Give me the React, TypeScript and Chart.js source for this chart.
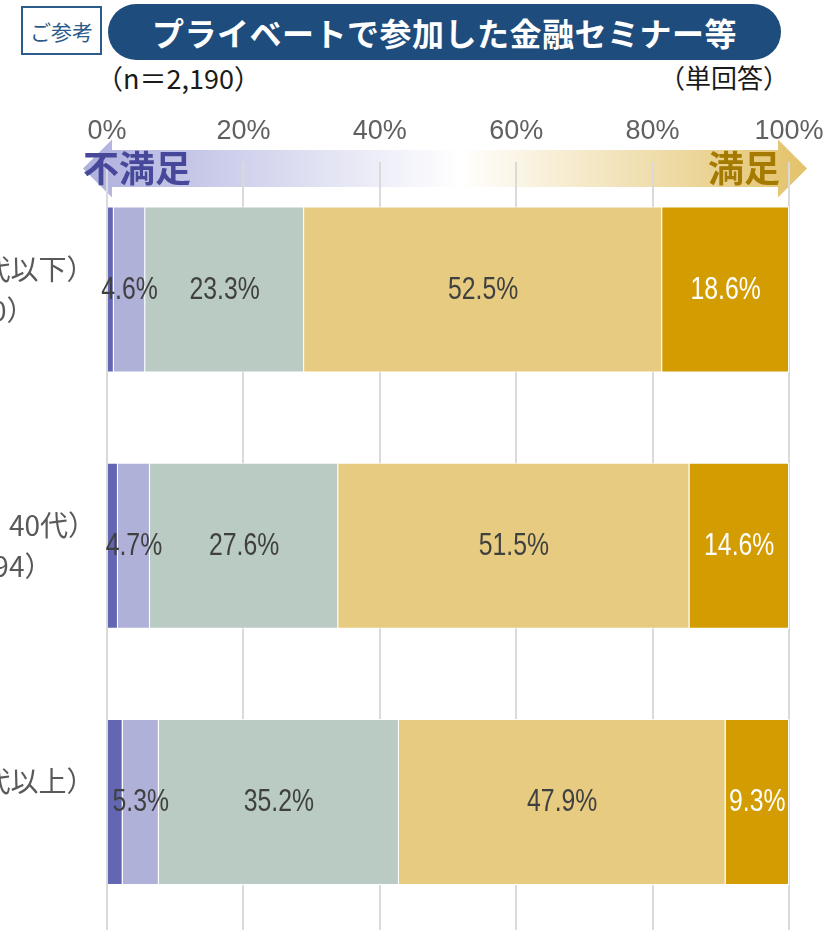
import React, { useEffect, useRef } from "react";
import { Chart, registerables } from "chart.js";

Chart.register(...registerables);

// ---- data ----
const categories: string[][] = [
  ["若年層（20代以下）", "（n=750）"],
  ["中年層（30・40代）", "（n＝1,094）"],
  ["高齢層（50代以上）", ""],
];
const seriesNames = ["不満", "やや不満", "どちらともいえない", "やや満足", "満足"];
const dissatisfied = [1.0, 1.6, 2.3];
const somewhatDissatisfied = [4.6, 4.7, 5.3];
const neutral = [23.3, 27.6, 35.2];
const somewhatSatisfied = [52.5, 51.5, 47.9];
const satisfied = [18.6, 14.6, 9.3];
const xTickValues = [0, 20, 40, 60, 80, 100];
const seriesColors = ["#6366b2", "#b0b1d9", "#b9cbc2", "#e6cb80", "#d39c00"];
const labelColors = ["", "#404040", "#404040", "#404040", "#ffffff"];

const SANS = "'Liberation Sans', Arial, sans-serif";
const JP = "'Noto Sans CJK JP', 'Noto Sans', sans-serif";

const arrowPlugin = {
  id: "satisfactionArrow",
  beforeDraw(chart: any) {
    const { ctx, chartArea } = chart;
    const L = chartArea.left;
    const R = chartArea.right;
    const cy = chartArea.top + 7;
    const bandH = 18.5;
    const headH = 29;
    const lt = L - 24, lb = L + 5, rb = R - 11, rt = R + 18;
    ctx.save();
    const g = ctx.createLinearGradient(lt, 0, rt, 0);
    g.addColorStop(0, "#aeb0de");
    g.addColorStop(0.52, "#ffffff");
    g.addColorStop(1, "#e3c26a");
    ctx.fillStyle = g;
    ctx.beginPath();
    ctx.moveTo(lt, cy);
    ctx.lineTo(lb, cy - headH);
    ctx.lineTo(lb, cy - bandH);
    ctx.lineTo(rb, cy - bandH);
    ctx.lineTo(rb, cy - headH);
    ctx.lineTo(rt, cy);
    ctx.lineTo(rb, cy + headH);
    ctx.lineTo(rb, cy + bandH);
    ctx.lineTo(lb, cy + bandH);
    ctx.lineTo(lb, cy + headH);
    ctx.closePath();
    ctx.fill();
    ctx.restore();
  },
  afterDatasetsDraw(chart: any) {
    const { ctx, chartArea } = chart;
    const cy = chartArea.top + 7;
    ctx.save();
    ctx.font = `bold 36px ${JP}`;
    ctx.textBaseline = "middle";
    ctx.textAlign = "left";
    ctx.fillStyle = "#47489a";
    ctx.fillText("不満足", chartArea.left - 24, cy);
    ctx.textAlign = "right";
    ctx.fillStyle = "#a57a00";
    ctx.fillText("満足", chartArea.right - 9, cy);
    ctx.restore();
  },
};

const segmentLabelPlugin = {
  id: "segmentLabels",
  afterDatasetsDraw(chart: any) {
    const ctx = chart.ctx;
    ctx.save();
    ctx.font = `31px ${SANS}`;
    ctx.textAlign = "center";
    ctx.textBaseline = "middle";
    chart.data.datasets.forEach((ds: any, i: number) => {
      if (!labelColors[i]) return;
      const meta = chart.getDatasetMeta(i);
      meta.data.forEach((bar: any, j: number) => {
        const { x, base, y } = bar.getProps(["x", "base", "y"], true);
        ctx.save();
        ctx.translate((x + base) / 2, y + 1);
        ctx.scale(0.8, 1);
        ctx.fillStyle = labelColors[i];
        ctx.fillText(Number(ds.data[j]).toFixed(1) + "%", 0, 0);
        ctx.restore();
      });
    });
    ctx.restore();
  },
};

export default function App() {
  const ref = useRef<HTMLCanvasElement>(null);

  useEffect(() => {
    const canvas = ref.current;
    if (!canvas) return;
    const values = [dissatisfied, somewhatDissatisfied, neutral, somewhatSatisfied, satisfied];
    const chart = new Chart(canvas, {
      type: "bar",
      data: {
        labels: categories,
        datasets: values.map((d, i) => ({
          label: seriesNames[i],
          data: d,
          backgroundColor: seriesColors[i],
          borderColor: "#ffffff",
          borderWidth: 1,
          barPercentage: 0.648,
          categoryPercentage: 1,
        })),
      },
      options: {
        indexAxis: "y",
        responsive: false,
        animation: false,
        layout: { padding: { left: 0, right: 37, top: 0, bottom: 0 } },
        plugins: { legend: { display: false }, tooltip: { enabled: false } },
        scales: {
          x: {
            position: "top",
            stacked: true,
            min: 0,
            max: 100,
            afterBuildTicks: (s: any) => {
              s.ticks = xTickValues.map((v) => ({ value: v }));
            },
            afterFit: (s: any) => {
              s.height = 61.5;
              s.paddingLeft = 0;
              s.paddingRight = 0;
            },
            ticks: {
              callback: (v: any) => v + "%",
              padding: 14,
              color: "#606060",
              font: { family: SANS, size: 27, lineHeight: 1.2 },
            },
            grid: { color: "#dadada", lineWidth: 2, drawTicks: false },
            border: { display: false },
          },
          y: {
            stacked: true,
            afterFit: (s: any) => {
              s.width = 300;
              s.paddingTop = 0;
              s.paddingBottom = 0;
            },
            ticks: {
              crossAlign: "center",
              padding: 3,
              color: "#595959",
              font: { family: JP, size: 28, lineHeight: 1.45 },
            },
            grid: { display: false },
            border: { display: false },
          },
        },
      } as any,
      plugins: [arrowPlugin, segmentLabelPlugin],
    });
    return () => chart.destroy();
  }, []);

  return (
    <div
      style={{
        position: "absolute",
        left: 0,
        top: 0,
        width: 826,
        height: 935,
        overflow: "hidden",
        background: "#ffffff",
        fontFamily: JP,
      }}
    >
      <div
        style={{
          position: "absolute",
          left: 21,
          top: 6,
          width: 81,
          height: 49,
          boxSizing: "border-box",
          border: "2px solid #2d5b8c",
          color: "#2d5b8c",
          fontSize: 21,
          display: "flex",
          alignItems: "center",
          justifyContent: "center",
          background: "#ffffff",
        }}
      >
        ご参考
      </div>
      <div
        style={{
          position: "absolute",
          left: 108,
          top: 4,
          width: 673,
          height: 56,
          borderRadius: 28,
          background: "#1e4d7d",
          color: "#ffffff",
          fontSize: 32,
          fontWeight: 700,
          letterSpacing: 0.5,
          display: "flex",
          alignItems: "center",
          justifyContent: "center",
        }}
      >
        プライベートで参加した金融セミナー等
      </div>
      <div
        style={{
          position: "absolute",
          left: 96,
          top: 62,
          fontSize: 27,
          lineHeight: "32px",
          color: "#1a1a1a",
          whiteSpace: "nowrap",
        }}
      >
        （n＝2,190）
      </div>
      <div
        style={{
          position: "absolute",
          right: 37,
          top: 61,
          fontSize: 26,
          lineHeight: "32px",
          color: "#1a1a1a",
          whiteSpace: "nowrap",
        }}
      >
        （単回答）
      </div>
      <canvas
        ref={ref}
        width={1019}
        height={830}
        style={{ position: "absolute", left: -193, top: 100 }}
      />
    </div>
  );
}
